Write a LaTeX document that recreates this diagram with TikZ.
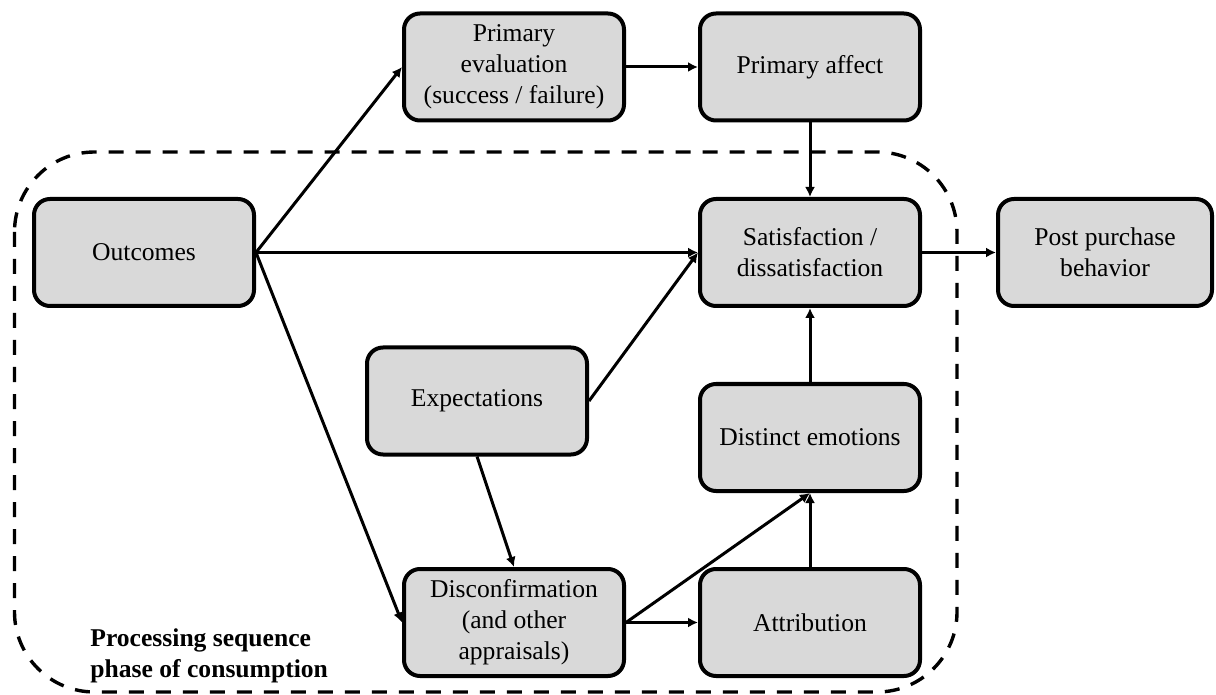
\documentclass[tikz,border=0pt]{standalone}
\usepackage{fontspec}
\setmainfont{Liberation Serif}
\usetikzlibrary{arrows.meta}
\definecolor{boxgray}{HTML}{D9D9D9}
\begin{document}
\begin{tikzpicture}[x=0.5pt,y=-0.5pt,
  stage/.style={draw, fill=boxgray, line width=2pt, rounded corners=8pt,
    minimum width=110pt, minimum height=53.5pt, inner sep=2pt, align=center,
    font=\fontsize{12.8}{15.5}\selectfont},
  flow/.style={line width=1.5pt, -{Latex[length=5pt,width=5pt]}},
  phase/.style={line width=1.7pt, dash pattern=on 7.5pt off 6pt, rounded corners=40pt},
]
\useasboundingbox (0,0) rectangle (1216,695);

% consumption phase boundary
\draw[phase] (14.5,152) rectangle (957,692);

% stages
\node[stage] (out)  at (144,252.5) {Outcomes};
\node[stage] (peval) at (514,67) {Primary\\evaluation\\(success / failure)};
\node[stage] (paff) at (810,67) {Primary affect};
\node[stage] (sat)  at (810,252.5) {Satisfaction /\\dissatisfaction};
\node[stage, minimum width=107pt] (post) at (1105,252.5) {Post purchase\\behavior};
\node[stage] (exp)  at (477,401) {Expectations};
\node[stage] (emo)  at (810,437.5) {Distinct emotions};
\node[stage] (disc) at (514,622.5) {Disconfirmation\\(and other\\appraisals)};
\node[stage] (attr) at (810,622.5) {Attribution};

% label of the phase
\node[anchor=north west, inner sep=0pt, align=left,
  font=\fontsize{12.8}{15.5}\selectfont\bfseries] (lbl) at (90,628)
  {Processing sequence\\phase of consumption};

% connections
\draw[flow] (out.east) -- (peval.west);
\draw[flow] (out.east) -- (sat.west);
\draw[flow] (out.east) -- (disc.west);
\draw[flow] (peval.east) -- (paff.west);
\draw[flow] (paff.south) -- (sat.north);
\draw[flow] (exp.east) -- (sat.west);
\draw[flow] (exp.south) -- (disc.north);
\draw[flow] (disc.east) -- (attr.west);
\draw[flow] (disc.east) -- (emo.south);
\draw[flow] (attr.north) -- (emo.south);
\draw[flow] (emo.north) -- (sat.south);
\draw[flow] (sat.east) -- (post.west);
\end{tikzpicture}
\end{document}
